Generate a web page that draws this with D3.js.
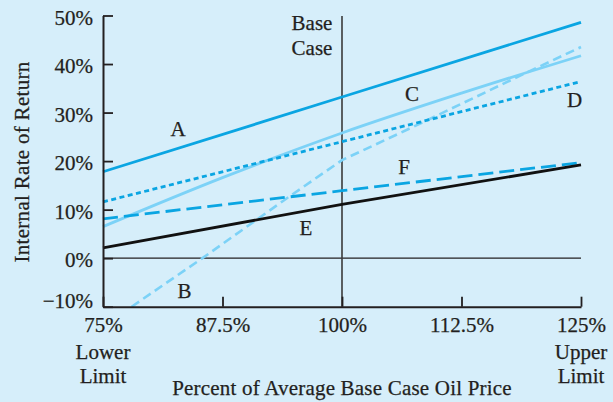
<!DOCTYPE html>
<html>
<head>
<meta charset="utf-8">
<script src="https://cdn.jsdelivr.net/npm/d3@7"></script>
<style>
  html, body { margin: 0; padding: 0; background: #d6eefa; }
  svg { display: block; }
  text { font-family: "Liberation Serif", "Times New Roman", serif; fill: #231f20; stroke: #231f20; stroke-width: 0.25px; }
</style>
</head>
<body>
<svg id="chart" width="613" height="402"></svg>
<script>
// ---- data ----
const xTicks = [75, 87.5, 100, 112.5, 125];
const xTickLabels = ["75%", "87.5%", "100%", "112.5%", "125%"];
const yTicks = [-10, 0, 10, 20, 30, 40, 50];
const yTickLabels = ["\u221210%", "0%", "10%", "20%", "30%", "40%", "50%"];

const seriesNames = ["A", "B", "C", "D", "E", "F"];
const seriesA_x = [75, 100, 125];
const seriesA_y = [17.8, 33.2, 48.6];
const seriesB_x = [78, 85.4, 94.2, 100, 107.5, 119.7, 125];
const seriesB_y = [-10, 0, 12.3, 20.2, 27.1, 38.6, 43.5];
const seriesC_x = [75, 87.5, 100, 112.5, 125];
const seriesC_y = [6.5, 16.6, 25.8, 34.0, 41.7];
const seriesD_x = [75, 100, 125];
const seriesD_y = [11.6, 24.0, 36.4];
const seriesE_x = [75, 100, 125];
const seriesE_y = [2.1, 11.1, 19.2];
const seriesF_x = [75, 100, 125];
const seriesF_y = [8.1, 13.9, 19.7];

const baseCaseX = 100;

// ---- layout ----
const svg = d3.select("#chart");
const x = d3.scaleLinear().domain([75, 125]).range([103, 581]);
const y = d3.scaleLinear().domain([-10, 50]).range([306.7, 15.5]);

const BLUE = "#0aa5e2";
const LIGHT = "#7cd2f7";
const fs = 21;

const styles = {
  A: { color: BLUE, width: 2.8, dash: null },
  B: { color: LIGHT, width: 2.6, dash: "9,5" },
  C: { color: LIGHT, width: 2.8, dash: null },
  D: { color: BLUE, width: 2.8, dash: "5,3.5" },
  E: { color: "#111", width: 2.8, dash: null },
  F: { color: BLUE, width: 2.8, dash: "15,6" }
};
const seriesData = {
  A: seriesA_x.map((v, i) => [v, seriesA_y[i]]),
  B: seriesB_x.map((v, i) => [v, seriesB_y[i]]),
  C: seriesC_x.map((v, i) => [v, seriesC_y[i]]),
  D: seriesD_x.map((v, i) => [v, seriesD_y[i]]),
  E: seriesE_x.map((v, i) => [v, seriesE_y[i]]),
  F: seriesF_x.map((v, i) => [v, seriesF_y[i]])
};

// zero line
svg.append("line")
  .attr("x1", x(75)).attr("x2", x(125))
  .attr("y1", y(0)).attr("y2", y(0))
  .attr("stroke", "#231f20").attr("stroke-width", 1.3);

// base case line
svg.append("line")
  .attr("x1", x(baseCaseX)).attr("x2", x(baseCaseX))
  .attr("y1", 16).attr("y2", y(-10))
  .attr("stroke", "#3a3a3a").attr("stroke-width", 1.6);

// series
const line = d3.line().x(d => x(d[0])).y(d => y(d[1]));
const lineCurve = d3.line().x(d => x(d[0])).y(d => y(d[1])).curve(d3.curveMonotoneX);
["B", "C", "D", "F", "A", "E"].forEach(k => {
  const s = styles[k];
  svg.append("path")
    .attr("d", (k === "C" ? lineCurve : line)(seriesData[k]))
    .attr("fill", "none")
    .attr("stroke", s.color)
    .attr("stroke-width", s.width)
    .attr("stroke-dasharray", s.dash);
});

// axes
const yAxis = d3.axisLeft(y).tickValues(yTicks)
  .tickFormat((d, i) => yTickLabels[i])
  .tickSizeInner(-10).tickSizeOuter(0).tickPadding(10);
const gy = svg.append("g").attr("transform", `translate(${x(75)},0)`).call(yAxis);
gy.attr("font-size", fs).attr("font-family", "Liberation Serif, serif");
gy.select(".domain").attr("stroke", "#231f20").attr("stroke-width", 2);
gy.selectAll(".tick line").attr("stroke", "#231f20").attr("stroke-width", 1.8);
gy.selectAll(".tick text")
  .attr("font-size", fs)
  .attr("fill", "#231f20").attr("dy", "0.42em")
  .filter(d => d === -10).attr("dy", "0.05em");

const xAxis = d3.axisBottom(x).tickValues(xTicks)
  .tickFormat((d, i) => xTickLabels[i])
  .tickSizeInner(-10).tickSizeOuter(0).tickPadding(10);
const gx = svg.append("g").attr("transform", `translate(0,${y(-10)})`).call(xAxis);
gx.attr("font-size", fs).attr("font-family", "Liberation Serif, serif");
gx.select(".domain").attr("stroke", "#231f20").attr("stroke-width", 2);
gx.selectAll(".tick line").attr("stroke", "#231f20").attr("stroke-width", 1.8);
gx.selectAll(".tick text")
  .attr("font-size", fs)
  .attr("fill", "#231f20");

// limit labels
[["Lower", 75, 359], ["Limit", 75, 383], ["Upper", 125, 359], ["Limit", 125, 383]].forEach(t => {
  svg.append("text").attr("x", x(t[1])).attr("y", t[2])
    .attr("text-anchor", "middle").attr("font-size", fs).text(t[0]);
});

// base case label
svg.append("text").attr("x", 312).attr("y", 30).attr("text-anchor", "middle").attr("font-size", fs).text("Base");
svg.append("text").attr("x", 312).attr("y", 55).attr("text-anchor", "middle").attr("font-size", fs).text("Case");

// series labels
const labelPos = { A: [178, 136], B: [184.5, 298], C: [412, 101], D: [574.5, 107], E: [306, 235], F: [404, 174] };
seriesNames.forEach(k => {
  svg.append("text").attr("x", labelPos[k][0]).attr("y", labelPos[k][1])
    .attr("text-anchor", "middle").attr("font-size", fs).text(k);
});

// axis titles
svg.append("text").attr("x", 342).attr("y", 395).attr("text-anchor", "middle")
  .attr("font-size", fs).attr("letter-spacing", 0.2).text("Percent of Average Base Case Oil Price");
svg.append("text").attr("transform", "translate(29,162) rotate(-90)")
  .attr("text-anchor", "middle").attr("font-size", fs).attr("letter-spacing", 0.3).text("Internal Rate of Return");
</script>
</body>
</html>
